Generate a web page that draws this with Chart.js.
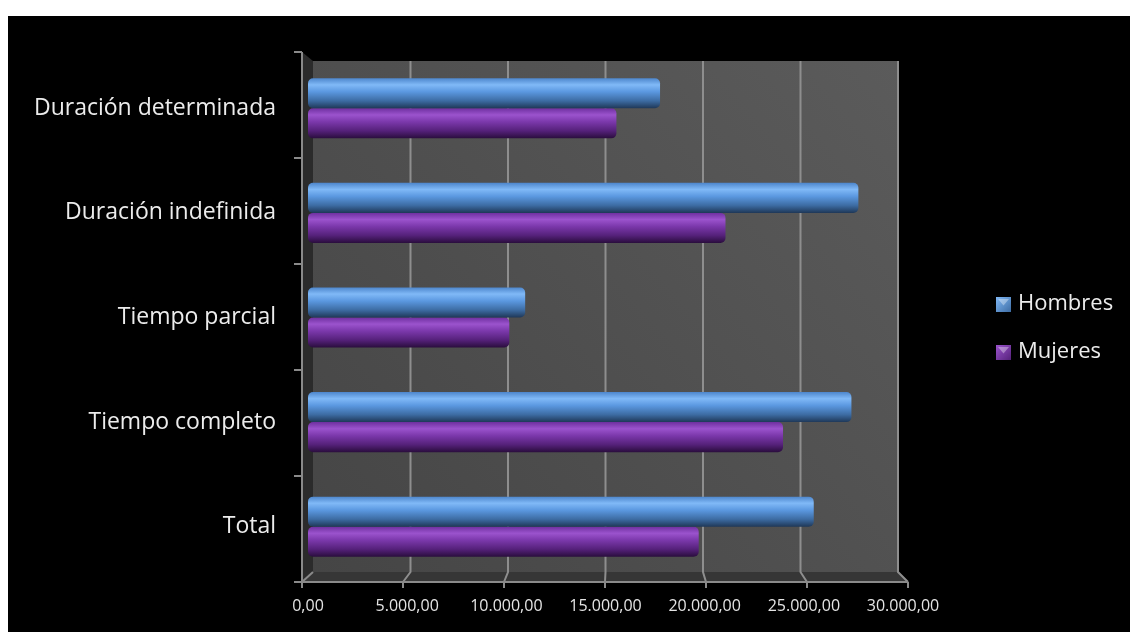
<!DOCTYPE html>
<html lang="es">
<head>
<meta charset="utf-8">
<title>Hombres y Mujeres por tipo de contrato</title>
<script src="https://cdn.jsdelivr.net/npm/chart.js@4.4.1/dist/chart.umd.min.js"></script>
<style>
  html, body { margin: 0; padding: 0; background: #fff; }
  #wrap { position: absolute; left: 8px; top: 16px; width: 1122px; height: 616px; background: #000; }
</style>
</head>
<body>
<div id="wrap"><canvas id="contratos"></canvas></div>
<script>
// Datos por tipo de contrato
const categories = ['Duración determinada', 'Duración indefinida', 'Tiempo parcial', 'Tiempo completo', 'Total'];
const hombres = [17750, 27750, 10950, 27400, 25500];
const mujeres = [15550, 21050, 10150, 23950, 19700];
const seriesNames = ['Hombres', 'Mujeres'];
const xTicks = [0, 5000, 10000, 15000, 20000, 25000, 30000];
const xTickLabels = ['0,00', '5.000,00', '10.000,00', '15.000,00', '20.000,00', '25.000,00', '30.000,00'];

const FONT = '"Open Sans", sans-serif';
const CAT_PCT = 0.575;

// paradas del degradado "cilindro" de cada serie (de arriba a abajo)
const blueStops = [[0, '#4d86cc'], [0.22, '#80b9f7'], [0.45, '#5b98e0'], [0.75, '#3d6ca3'], [1, '#1f3858']];
const purpleStops = [[0, '#6f30a0'], [0.22, '#9b53cd'], [0.45, '#7b38ab'], [0.75, '#55217a'], [1, '#2a0d3d']];

function cylinder(stops, slot) {
  return (c) => {
    const chart = c.chart;
    const area = chart.chartArea;
    const y = chart.scales.y;
    if (!area || !y || c.dataIndex === undefined) return stops[2][1];
    const band = (area.bottom - area.top) / categories.length;
    const thick = band * CAT_PCT / 2;
    const center = y.getPixelForValue(c.dataIndex);
    const top = center - thick + slot * thick;
    const g = chart.ctx.createLinearGradient(0, top, 0, top + thick);
    stops.forEach(([o, col]) => g.addColorStop(o, col));
    return g;
  };
}

// paredes, suelo y ejes en perspectiva
const frame3d = {
  id: 'frame3d',
  beforeDraw(chart) {
    const { ctx, chartArea: a } = chart;
    const xs = chart.scales.x;
    const front = { l: a.left - 6, r: a.right + 5, t: a.top - 4, b: a.bottom + 3 };
    const back = { l: a.left + 5, r: a.right - 5, t: a.top + 5, b: a.bottom - 7 };
    const fx = (v) => front.l + (v - xs.min) / (xs.max - xs.min) * (front.r - front.l);
    const bx = (v) => back.l + (v - xs.min) / (xs.max - xs.min) * (back.r - back.l);

    ctx.save();
    // pared del fondo
    const g = ctx.createLinearGradient(back.l, back.b, back.r, back.t);
    g.addColorStop(0, '#454545');
    g.addColorStop(1, '#5b5b5b');
    ctx.fillStyle = g;
    ctx.fillRect(back.l, back.t, back.r - back.l, back.b - back.t);

    // pared lateral
    ctx.fillStyle = '#2b2b2b';
    ctx.beginPath();
    ctx.moveTo(front.l, front.t);
    ctx.lineTo(back.l, back.t);
    ctx.lineTo(back.l, back.b);
    ctx.lineTo(front.l, front.b);
    ctx.closePath();
    ctx.fill();

    // suelo
    ctx.fillStyle = '#363636';
    ctx.beginPath();
    ctx.moveTo(back.l, back.b);
    ctx.lineTo(back.r, back.b);
    ctx.lineTo(front.r, front.b);
    ctx.lineTo(front.l, front.b);
    ctx.closePath();
    ctx.fill();

    // líneas de división
    ctx.strokeStyle = '#8e8e8e';
    ctx.lineWidth = 2;
    xs.ticks.forEach((t) => {
      if (t.value === xs.min) return;
      ctx.beginPath();
      ctx.moveTo(bx(t.value), back.t);
      ctx.lineTo(bx(t.value), back.b);
      ctx.lineTo(fx(t.value), front.b);
      ctx.stroke();
    });

    // ejes frontales
    ctx.strokeStyle = '#8a8a8a';
    ctx.lineWidth = 2;
    ctx.beginPath();
    ctx.moveTo(front.l, front.t);
    ctx.lineTo(front.l, front.b);
    ctx.lineTo(front.r, front.b);
    ctx.stroke();
    ctx.beginPath();
    ctx.moveTo(front.l, front.b);
    ctx.lineTo(back.l, back.b);
    ctx.stroke();
    ctx.beginPath();
    for (let i = 0; i <= categories.length; i++) {
      const y = front.t + i * (front.b - front.t) / categories.length;
      ctx.moveTo(front.l - 8, y);
      ctx.lineTo(front.l, y);
    }
    xs.ticks.forEach((t) => {
      ctx.moveTo(fx(t.value), front.b);
      ctx.lineTo(fx(t.value), front.b + 6);
    });
    ctx.stroke();
    ctx.restore();
  }
};

// leyenda a la derecha con iconos de barra
function legendIcon(ctx, x, y, stops) {
  const s = 15;
  const g = ctx.createLinearGradient(x, y, x + s, y + s);
  g.addColorStop(0, stops[1][1]);
  g.addColorStop(1, stops[3][1]);
  ctx.fillStyle = g;
  ctx.fillRect(x, y, s, s);
  ctx.fillStyle = 'rgba(255,255,255,0.35)';
  ctx.beginPath();
  ctx.moveTo(x + 2, y + 2);
  ctx.lineTo(x + s - 2, y + 2);
  ctx.lineTo(x + s / 2, y + s / 2 + 1);
  ctx.closePath();
  ctx.fill();
}

const sideLegend = {
  id: 'sideLegend',
  afterDraw(chart) {
    const { ctx } = chart;
    const mid = chart.height / 2 + 4;
    const stops = [blueStops, purpleStops];
    ctx.save();
    ctx.font = '22px ' + FONT;
    ctx.textBaseline = 'middle';
    chart.data.datasets.forEach((ds, i) => {
      const cy = mid + (i === 0 ? -24 : 24);
      legendIcon(ctx, 988, cy - 7, stops[i]);
      ctx.fillStyle = '#ececec';
      ctx.fillText(ds.label, 1010, cy);
    });
    ctx.restore();
  }
};

new Chart(document.getElementById('contratos'), {
  type: 'bar',
  data: {
    labels: categories,
    datasets: [
      { label: seriesNames[0], data: hombres, backgroundColor: cylinder(blueStops, 0) },
      { label: seriesNames[1], data: mujeres, backgroundColor: cylinder(purpleStops, 1) }
    ]
  },
  options: {
    indexAxis: 'y',
    responsive: true,
    maintainAspectRatio: false,
    animation: false,
    datasets: {
      bar: {
        categoryPercentage: CAT_PCT,
        barPercentage: 1.0,
        borderRadius: 5,
        borderSkipped: false
      }
    },
    layout: { padding: { top: 40, right: 227, bottom: 0, left: 0 } },
    scales: {
      x: {
        min: 0,
        max: 30000,
        afterBuildTicks: (s) => { s.ticks = xTicks.map((v) => ({ value: v })); },
        afterFit: (s) => { s.height = 53; },
        grid: { display: false, drawTicks: false },
        border: { display: false },
        ticks: {
          color: '#e4e4e4',
          font: { family: FONT, size: 16 },
          padding: 18,
          maxRotation: 0,
          callback: (v) => xTickLabels[xTicks.indexOf(v)]
        }
      },
      y: {
        afterFit: (s) => { s.width = 300; s.paddingTop = 0; s.paddingBottom = 0; },
        grid: { display: false, drawTicks: false },
        border: { display: false },
        ticks: {
          color: '#ececec',
          font: { family: FONT, size: 23 },
          padding: 32
        }
      }
    },
    plugins: {
      legend: { display: false },
      tooltip: { enabled: false }
    }
  },
  plugins: [frame3d, sideLegend]
});
</script>
</body>
</html>
